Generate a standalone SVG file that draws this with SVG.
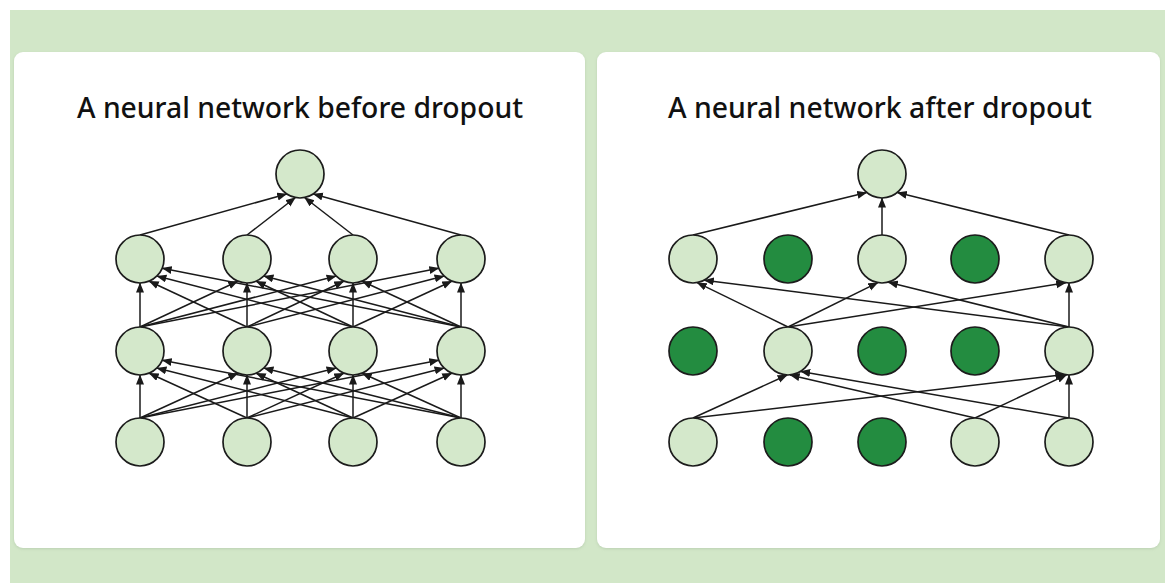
<svg xmlns="http://www.w3.org/2000/svg" width="1165" height="583" viewBox="0 0 1165 583">
  <style>
    .bg { fill: #d2e7c8; }
    .panel { fill: #ffffff; }
    .title { font-family: "Noto Sans", "Open Sans", sans-serif; font-weight: 500; font-size: 28px; fill: #111111; text-anchor: middle; }
    .on { fill: #d4e8cb; stroke: #1c1c1c; stroke-width: 1.7; }
    .off { fill: #238c40; stroke: #1c1c1c; stroke-width: 1.7; }
    .edge { stroke: #1a1a1a; stroke-width: 1.5; fill: none; marker-end: url(#arrow); }
  </style>
  <defs>
    <marker id="arrow" markerUnits="userSpaceOnUse" markerWidth="11" markerHeight="9" refX="9.5" refY="4" orient="auto">
      <path d="M0,0 L10,4 L0,8 z" fill="#1a1a1a"/>
    </marker>
    <filter id="soft" x="-5%" y="-5%" width="110%" height="110%">
      <feDropShadow dx="0" dy="1" stdDeviation="1.5" flood-color="#9fb597" flood-opacity="0.45"/>
    </filter>
  </defs>

  <!-- backdrop -->
  <rect x="0" y="0" width="1165" height="583" fill="#ffffff"/>
  <rect class="bg" x="10" y="10" width="1155" height="573"/>

  <!-- two cards -->
  <rect class="panel" x="14" y="52" width="571" height="496" rx="9" filter="url(#soft)"/>
  <rect class="panel" x="597" y="52" width="563" height="496" rx="9" filter="url(#soft)"/>

  <text class="title" x="300" y="118" textLength="446" lengthAdjust="spacingAndGlyphs">A neural network before dropout</text>
  <text class="title" x="880" y="118" textLength="424" lengthAdjust="spacingAndGlyphs">A neural network after dropout</text>

  <!-- connectors -->
  <g id="connectors">
    <!-- full network: hidden 2 to output -->
    <line class="edge" x1="140" y1="235" x2="286.7" y2="194"/>
    <line class="edge" x1="247" y1="235" x2="295.4" y2="197.5"/>
    <line class="edge" x1="353" y1="235" x2="304.6" y2="197.5"/>
    <line class="edge" x1="461" y1="235" x2="313.3" y2="194"/>
    <!-- full network: hidden 1 to hidden 2 -->
    <line class="edge" x1="140" y1="327" x2="140" y2="283"/>
    <line class="edge" x1="247" y1="327" x2="149.2" y2="281.2"/>
    <line class="edge" x1="353" y1="327" x2="156.9" y2="276.1"/>
    <line class="edge" x1="461" y1="327" x2="162.2" y2="268.2"/>
    <line class="edge" x1="140" y1="327" x2="237.8" y2="281.2"/>
    <line class="edge" x1="247" y1="327" x2="247" y2="283"/>
    <line class="edge" x1="353" y1="327" x2="256.2" y2="281.2"/>
    <line class="edge" x1="461" y1="327" x2="263.9" y2="276.1"/>
    <line class="edge" x1="140" y1="327" x2="336.1" y2="276.1"/>
    <line class="edge" x1="247" y1="327" x2="343.8" y2="281.2"/>
    <line class="edge" x1="353" y1="327" x2="353" y2="283"/>
    <line class="edge" x1="461" y1="327" x2="362.2" y2="281.2"/>
    <line class="edge" x1="140" y1="327" x2="438.8" y2="268.2"/>
    <line class="edge" x1="247" y1="327" x2="444.1" y2="276.1"/>
    <line class="edge" x1="353" y1="327" x2="451.8" y2="281.2"/>
    <line class="edge" x1="461" y1="327" x2="461" y2="283"/>
    <!-- full network: input to hidden 1 -->
    <line class="edge" x1="140" y1="418" x2="140" y2="375"/>
    <line class="edge" x1="247" y1="418" x2="149.2" y2="373.2"/>
    <line class="edge" x1="353" y1="418" x2="156.9" y2="368.1"/>
    <line class="edge" x1="461" y1="418" x2="162.2" y2="360.2"/>
    <line class="edge" x1="140" y1="418" x2="237.8" y2="373.2"/>
    <line class="edge" x1="247" y1="418" x2="247" y2="375"/>
    <line class="edge" x1="353" y1="418" x2="256.2" y2="373.2"/>
    <line class="edge" x1="461" y1="418" x2="263.9" y2="368.1"/>
    <line class="edge" x1="140" y1="418" x2="336.1" y2="368.1"/>
    <line class="edge" x1="247" y1="418" x2="343.8" y2="373.2"/>
    <line class="edge" x1="353" y1="418" x2="353" y2="375"/>
    <line class="edge" x1="461" y1="418" x2="362.2" y2="373.2"/>
    <line class="edge" x1="140" y1="418" x2="438.8" y2="360.2"/>
    <line class="edge" x1="247" y1="418" x2="444.1" y2="368.1"/>
    <line class="edge" x1="353" y1="418" x2="451.8" y2="373.2"/>
    <line class="edge" x1="461" y1="418" x2="461" y2="375"/>

    <!-- thinned network: hidden 2 to output -->
    <line class="edge" x1="693" y1="235" x2="866.7" y2="192.5"/>
    <line class="edge" x1="882" y1="235" x2="882" y2="198"/>
    <line class="edge" x1="1069" y1="235" x2="897.3" y2="192.5"/>
    <!-- thinned network: hidden 1 to hidden 2 -->
    <line class="edge" x1="788" y1="327" x2="697.2" y2="282.6"/>
    <line class="edge" x1="1069" y1="327" x2="704.3" y2="280.2"/>
    <line class="edge" x1="788" y1="327" x2="877.8" y2="282.6"/>
    <line class="edge" x1="1069" y1="327" x2="888.2" y2="282.2"/>
    <line class="edge" x1="788" y1="327" x2="1065.7" y2="282.8"/>
    <line class="edge" x1="1069" y1="327" x2="1069" y2="283"/>
    <!-- thinned network: input to hidden 1 -->
    <line class="edge" x1="693" y1="418" x2="787.2" y2="375"/>
    <line class="edge" x1="975" y1="418" x2="790.1" y2="374.9"/>
    <line class="edge" x1="1069" y1="418" x2="800.7" y2="371.4"/>
    <line class="edge" x1="693" y1="418" x2="1064.8" y2="374.6"/>
    <line class="edge" x1="975" y1="418" x2="1066.5" y2="374.9"/>
    <line class="edge" x1="1069" y1="418" x2="1069" y2="375"/>
  </g>

  <!-- full network nodes -->
  <g id="a-out"><circle class="on" cx="300" cy="174" r="24"/></g>
  <g id="a-h2-1"><circle class="on" cx="140" cy="259" r="24"/></g>
  <g id="a-h2-2"><circle class="on" cx="247" cy="259" r="24"/></g>
  <g id="a-h2-3"><circle class="on" cx="353" cy="259" r="24"/></g>
  <g id="a-h2-4"><circle class="on" cx="461" cy="259" r="24"/></g>
  <g id="a-h1-1"><circle class="on" cx="140" cy="351" r="24"/></g>
  <g id="a-h1-2"><circle class="on" cx="247" cy="351" r="24"/></g>
  <g id="a-h1-3"><circle class="on" cx="353" cy="351" r="24"/></g>
  <g id="a-h1-4"><circle class="on" cx="461" cy="351" r="24"/></g>
  <g id="a-in-1"><circle class="on" cx="140" cy="442" r="24"/></g>
  <g id="a-in-2"><circle class="on" cx="247" cy="442" r="24"/></g>
  <g id="a-in-3"><circle class="on" cx="353" cy="442" r="24"/></g>
  <g id="a-in-4"><circle class="on" cx="461" cy="442" r="24"/></g>

  <!-- thinned network nodes (dark = dropped) -->
  <g id="b-out"><circle class="on" cx="882" cy="174" r="24"/></g>
  <g id="b-h2-1"><circle class="on" cx="693" cy="259" r="24"/></g>
  <g id="b-h2-2"><circle class="off" cx="788" cy="259" r="24"/></g>
  <g id="b-h2-3"><circle class="on" cx="882" cy="259" r="24"/></g>
  <g id="b-h2-4"><circle class="off" cx="975" cy="259" r="24"/></g>
  <g id="b-h2-5"><circle class="on" cx="1069" cy="259" r="24"/></g>
  <g id="b-h1-1"><circle class="off" cx="693" cy="351" r="24"/></g>
  <g id="b-h1-2"><circle class="on" cx="788" cy="351" r="24"/></g>
  <g id="b-h1-3"><circle class="off" cx="882" cy="351" r="24"/></g>
  <g id="b-h1-4"><circle class="off" cx="975" cy="351" r="24"/></g>
  <g id="b-h1-5"><circle class="on" cx="1069" cy="351" r="24"/></g>
  <g id="b-in-1"><circle class="on" cx="693" cy="442" r="24"/></g>
  <g id="b-in-2"><circle class="off" cx="788" cy="442" r="24"/></g>
  <g id="b-in-3"><circle class="off" cx="882" cy="442" r="24"/></g>
  <g id="b-in-4"><circle class="on" cx="975" cy="442" r="24"/></g>
  <g id="b-in-5"><circle class="on" cx="1069" cy="442" r="24"/></g>
</svg>
